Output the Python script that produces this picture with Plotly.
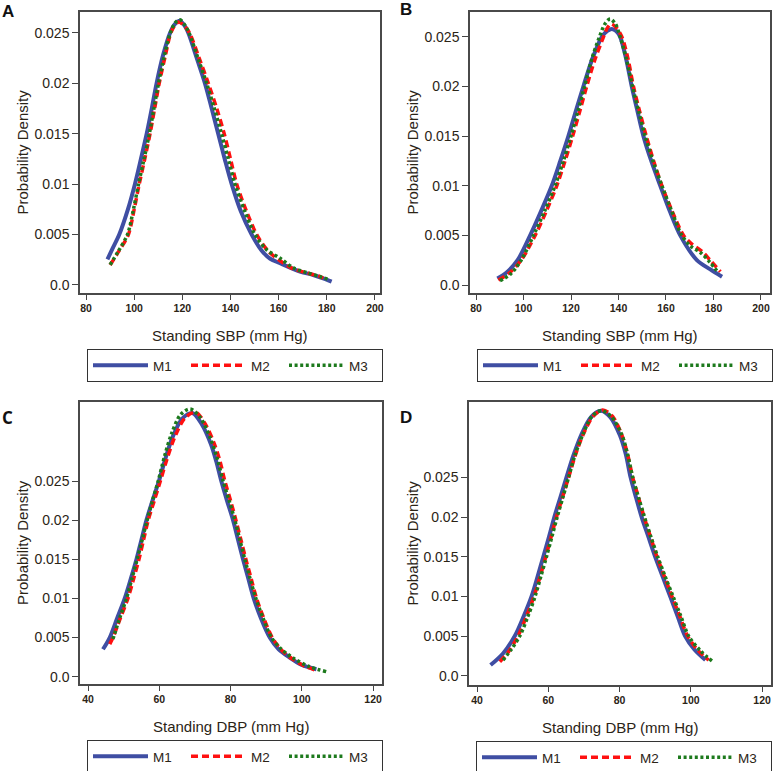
import plotly.graph_objects as go

W, H = 777, 771

# ---------------- data ----------------
# Panel A: Standing SBP
a_m1_x = [88.9, 91.0, 93.8, 97.4, 100.3, 102.8, 105.2, 107.3, 109.3, 112.0, 114.9, 117.0, 119.0, 121.0, 122.5, 126.0, 129.4, 132.2, 134.9, 137.6, 140.5, 144.3, 148.8, 153.0, 156.5, 160.6, 168.9, 174.4, 178.5, 182.0]
a_m1_y = [0.00254, 0.0036, 0.005, 0.0075, 0.010, 0.0125, 0.015, 0.0175, 0.020, 0.0228, 0.025, 0.0259, 0.0262, 0.0257, 0.025, 0.0225, 0.020, 0.0175, 0.015, 0.0125, 0.010, 0.0073, 0.005, 0.0034, 0.0026, 0.00215, 0.00132, 0.00099, 0.00066, 0.00033]
a_m2_x = [90.0, 93.5, 97.6, 100.0, 102.1, 104.4, 106.6, 108.5, 110.4, 113.0, 115.2, 117.0, 118.6, 120.8, 123.0, 127.0, 130.8, 134.3, 137.4, 140.0, 142.6, 146.5, 150.9, 155.5, 160.6, 166.0, 172.3, 177.2, 178.5]
a_m2_y = [0.00198, 0.0033, 0.005, 0.0075, 0.010, 0.0125, 0.015, 0.0175, 0.020, 0.0228, 0.025, 0.0258, 0.0261, 0.0257, 0.025, 0.0225, 0.020, 0.0175, 0.015, 0.0125, 0.010, 0.0074, 0.005, 0.0034, 0.0024, 0.0016, 0.00116, 0.00083, 0.00066]
a_m3_x = [90.0, 93.3, 97.2, 99.7, 101.8, 104.1, 106.3, 108.2, 110.1, 112.6, 115.0, 117.0, 119.0, 121.0, 122.8, 126.5, 130.1, 133.3, 136.3, 139.1, 141.9, 145.8, 150.2, 155.0, 160.6, 166.1, 172.0, 177.5, 181.3]
a_m3_y = [0.0020, 0.0033, 0.005, 0.0075, 0.010, 0.0125, 0.015, 0.0175, 0.020, 0.0228, 0.025, 0.0260, 0.0263, 0.0258, 0.025, 0.0225, 0.020, 0.0175, 0.015, 0.0125, 0.010, 0.0074, 0.005, 0.0035, 0.00265, 0.0017, 0.0012, 0.0008, 0.0005]

# Panel B: Standing SBP
b_m1_x = [89.0, 93.0, 97.5, 102.8, 107.5, 111.9, 115.5, 118.9, 122.0, 125.2, 129.0, 133.0, 135.3, 137.2, 139.0, 140.7, 143.2, 145.6, 148.0, 150.5, 153.8, 157.6, 161.5, 166.0, 173.0, 178.5, 183.6]
b_m1_y = [0.00067, 0.0013, 0.0025, 0.005, 0.0075, 0.010, 0.0125, 0.015, 0.0175, 0.020, 0.0228, 0.025, 0.0256, 0.0258, 0.0256, 0.025, 0.0228, 0.020, 0.0175, 0.015, 0.0125, 0.010, 0.0075, 0.005, 0.00252, 0.0016, 0.00084]
b_m2_x = [89.4, 94.0, 99.0, 104.9, 109.7, 114.0, 117.5, 120.7, 123.7, 126.6, 130.2, 133.7, 135.3, 136.8, 138.8, 141.4, 144.0, 146.3, 148.9, 151.7, 154.8, 158.3, 162.5, 167.4, 171.0, 175.1, 179.0, 182.9]
b_m2_y = [0.0005, 0.0012, 0.0025, 0.005, 0.0075, 0.010, 0.0125, 0.015, 0.0175, 0.020, 0.0228, 0.025, 0.0259, 0.0263, 0.0260, 0.025, 0.0228, 0.020, 0.0175, 0.015, 0.0125, 0.010, 0.0075, 0.005, 0.0041, 0.0034, 0.0024, 0.00135]
b_m3_x = [90.1, 94.5, 99.0, 104.2, 109.0, 113.3, 116.8, 120.0, 122.9, 125.7, 128.8, 132.0, 134.3, 136.5, 138.7, 140.7, 143.3, 145.9, 148.5, 151.2, 154.5, 158.3, 162.3, 166.7, 170.5, 174.4, 178.5, 182.2]
b_m3_y = [0.00044, 0.0011, 0.0025, 0.005, 0.0075, 0.010, 0.0125, 0.015, 0.0175, 0.020, 0.0228, 0.025, 0.0263, 0.0268, 0.0263, 0.025, 0.0228, 0.020, 0.0175, 0.015, 0.0125, 0.010, 0.0075, 0.005, 0.0039, 0.0033, 0.0023, 0.0012]

# Panel C: Standing DBP
c_m1_x = [44.2, 46.1, 48.2, 50.3, 52.0, 53.6, 55.0, 56.4, 58.1, 59.9, 61.8, 63.9, 66.5, 69.3, 72.0, 74.5, 76.0, 77.4, 79.0, 80.7, 82.1, 83.5, 85.0, 86.5, 88.5, 91.0, 93.5, 96.6, 100.0, 104.1]
c_m1_y = [0.0035, 0.005, 0.0075, 0.010, 0.0125, 0.015, 0.0175, 0.020, 0.0225, 0.025, 0.0280, 0.0308, 0.0330, 0.0337, 0.0322, 0.0297, 0.0275, 0.025, 0.0225, 0.020, 0.0175, 0.015, 0.0125, 0.010, 0.0075, 0.005, 0.0035, 0.00244, 0.0015, 0.00094]
c_m2_x = [46.1, 47.0, 49.1, 51.2, 52.8, 54.3, 55.6, 56.9, 58.6, 60.3, 62.3, 64.5, 67.3, 70.2, 72.9, 75.4, 77.0, 78.4, 80.0, 81.5, 82.9, 84.3, 85.8, 87.3, 89.3, 91.7, 94.3, 97.5, 101.0, 104.6]
c_m2_y = [0.00415, 0.005, 0.0075, 0.010, 0.0125, 0.015, 0.0175, 0.020, 0.0225, 0.025, 0.0280, 0.0308, 0.0331, 0.0338, 0.0323, 0.0298, 0.0276, 0.025, 0.0225, 0.020, 0.0175, 0.015, 0.0125, 0.010, 0.0075, 0.005, 0.0034, 0.0022, 0.0013, 0.00073]
c_m3_x = [47.0, 48.9, 50.8, 52.3, 53.8, 55.2, 56.6, 58.1, 59.7, 61.5, 63.4, 66.0, 68.7, 71.5, 74.3, 76.3, 77.9, 79.6, 81.2, 82.6, 84.0, 85.5, 87.1, 89.1, 91.5, 94.3, 97.5, 102.0, 106.9]
c_m3_y = [0.0048, 0.0075, 0.010, 0.0125, 0.015, 0.0175, 0.020, 0.0225, 0.025, 0.0282, 0.0310, 0.0335, 0.0342, 0.0331, 0.0305, 0.0278, 0.025, 0.0225, 0.020, 0.0175, 0.015, 0.0125, 0.010, 0.0075, 0.005, 0.0035, 0.0024, 0.0013, 0.00064]

# Panel D: Standing DBP
d_m1_x = [43.8, 47.3, 50.6, 53.1, 55.3, 57.0, 58.6, 60.2, 61.7, 63.4, 65.1, 67.0, 69.3, 72.0, 74.7, 77.4, 80.1, 81.7, 83.1, 84.6, 86.2, 88.1, 90.0, 92.1, 94.2, 96.3, 98.4, 101.0, 104.1]
d_m1_y = [0.00134, 0.0028, 0.005, 0.0075, 0.010, 0.0125, 0.015, 0.0175, 0.020, 0.0225, 0.025, 0.0277, 0.0304, 0.0326, 0.0334, 0.0326, 0.0303, 0.0280, 0.025, 0.0225, 0.020, 0.0175, 0.015, 0.0125, 0.010, 0.0075, 0.005, 0.0033, 0.00197]
d_m2_x = [46.4, 48.8, 51.5, 53.9, 56.0, 57.7, 59.3, 60.8, 62.3, 64.0, 65.7, 67.6, 69.9, 72.6, 75.3, 78.0, 80.6, 82.2, 83.7, 85.3, 86.9, 88.7, 90.5, 92.6, 94.7, 96.9, 99.1, 102.0, 105.0]
d_m2_y = [0.00176, 0.003, 0.005, 0.0075, 0.010, 0.0125, 0.015, 0.0175, 0.020, 0.0225, 0.025, 0.0278, 0.0305, 0.0327, 0.0335, 0.0327, 0.0304, 0.0280, 0.025, 0.0225, 0.020, 0.0175, 0.015, 0.0125, 0.010, 0.0075, 0.005, 0.0032, 0.00197]
d_m3_x = [47.3, 49.6, 52.0, 54.3, 56.3, 57.9, 59.5, 61.0, 62.5, 64.1, 65.7, 67.5, 69.8, 72.3, 74.8, 77.6, 80.6, 82.2, 83.7, 85.3, 87.0, 88.8, 90.7, 92.8, 95.0, 97.2, 99.4, 102.8, 106.2]
d_m3_y = [0.00197, 0.0033, 0.005, 0.0075, 0.010, 0.0125, 0.015, 0.0175, 0.020, 0.0225, 0.025, 0.0278, 0.0305, 0.0327, 0.0334, 0.0327, 0.0304, 0.0280, 0.025, 0.0225, 0.020, 0.0175, 0.015, 0.0125, 0.010, 0.0075, 0.005, 0.0031, 0.00176]

series_names = ["M1", "M2", "M3"]
y_tickvals = [0.0, 0.005, 0.01, 0.015, 0.02, 0.025]
y_ticktext = ["0.0", "0.005", "0.01", "0.015", "0.02", "0.025"]
sbp_ticks = [80, 100, 120, 140, 160, 180, 200]
dbp_ticks = [40, 60, 80, 100, 120]
panel_labels = ["A", "B", "C", "D"]
x_titles = ["Standing SBP (mm Hg)", "Standing SBP (mm Hg)", "Standing DBP (mm Hg)", "Standing DBP (mm Hg)"]
y_title = "Probability Density"

# ---------------- styles ----------------
COLORS = ["#3f4ea3", "#ff1010", "#1d7a1d"]
WIDTHS = [4, 3.5, 3.5]
DASHES = ["solid", "7px,4px", "3px,2.6px"]
FONT = '"Liberation Sans", Arial, sans-serif'
FRAME = "#4a4a4a"
TXT = "#2b2416"


def px_x(p):
    return p / W


def px_y(p):
    return 1 - p / H


# panel frames in pixels: (left, right, top, bottom)
frames = [(80, 380, 12, 293), (470, 770, 12, 293), (80, 382, 402, 684), (469, 771, 402, 685)]
xranges = [[77.5, 202.1], [77.47, 203.8], [37.75, 122.5], [37.75, 122.5]]
yranges = [[-0.0008, 0.02708], [-0.0008, 0.0275], [-0.00094, 0.0351], [-0.00117, 0.0345]]
xticks = [sbp_ticks, sbp_ticks, dbp_ticks, dbp_ticks]

data = [
    [(a_m1_x, a_m1_y), (a_m2_x, a_m2_y), (a_m3_x, a_m3_y)],
    [(b_m1_x, b_m1_y), (b_m2_x, b_m2_y), (b_m3_x, b_m3_y)],
    [(c_m1_x, c_m1_y), (c_m2_x, c_m2_y), (c_m3_x, c_m3_y)],
    [(d_m1_x, d_m1_y), (d_m2_x, d_m2_y), (d_m3_x, d_m3_y)],
]

fig = go.Figure()
layout = dict(
    width=W, height=H, margin=dict(l=0, r=0, t=0, b=0, autoexpand=False),
    paper_bgcolor="white", plot_bgcolor="white",
    font=dict(family=FONT, color=TXT),
    showlegend=True, annotations=[],
)

legend_keys = ["legend", "legend2", "legend3", "legend4"]
label_pos = [(8, 12), (406, 10), (7, 417), (406, 417)]
label_fonts = [FONT, FONT, '"Open Sans", sans-serif', FONT]

for i in range(4):
    l, r, t, b = frames[i]
    sfx = "" if i == 0 else str(i + 1)
    xa, ya = "x" + sfx, "y" + sfx
    for j in range(3):
        xs, ys = data[i][j]
        fig.add_trace(go.Scatter(
            x=xs, y=ys, mode="lines", name=series_names[j],
            line=dict(color=COLORS[j], width=WIDTHS[j], dash=DASHES[j], shape="spline", smoothing=0.9),
            xaxis=xa, yaxis=ya, legend=legend_keys[i], hoverinfo="x+y+name",
        ))
    layout["xaxis" + sfx] = dict(
        domain=[px_x(l), px_x(r)], range=xranges[i], anchor=ya,
        tickvals=xticks[i], ticks="outside", ticklen=5, tickcolor="#444",
        tickfont=dict(size=10.5, family=FONT, color=TXT, weight="bold"),
        showline=True, linecolor=FRAME, linewidth=1.5, mirror=True,
        showgrid=False, zeroline=False,
    )
    layout["yaxis" + sfx] = dict(
        domain=[px_y(b), px_y(t)], range=yranges[i], anchor=xa,
        tickvals=y_tickvals, ticktext=y_ticktext, ticks="outside", ticklen=6, tickcolor="#444",
        tickfont=dict(size=14, family=FONT, color=TXT),
        showline=True, linecolor=FRAME, linewidth=1.5, mirror=True,
        showgrid=False, zeroline=False,
    )
    layout[legend_keys[i]] = dict(
        x=px_x(l + 7), y=px_y(b + 56), xanchor="left", yanchor="top",
        orientation="h", bordercolor="#333", borderwidth=1, bgcolor="white",
        font=dict(size=13.5, family=FONT, color=TXT), itemwidth=55, entrywidth=28,
        tracegroupgap=0, itemclick=False, itemdoubleclick=False,
    )
    cx = (l + r) / 2
    cy = (t + b) / 2
    layout["annotations"] += [
        dict(text=x_titles[i], x=px_x(cx), y=px_y(b + 42), xref="paper", yref="paper",
             showarrow=False, xanchor="center", yanchor="middle", font=dict(size=15, family=FONT, color=TXT)),
        dict(text=y_title, x=px_x(22 if i % 2 == 0 else 412), y=px_y(cy), xref="paper", yref="paper",
             showarrow=False, textangle=-90, xanchor="center", yanchor="middle", font=dict(size=15, family=FONT, color=TXT)),
        dict(text="<b>" + panel_labels[i] + "</b>", x=px_x(label_pos[i][0]), y=px_y(label_pos[i][1]),
             xref="paper", yref="paper", showarrow=False, xanchor="center", yanchor="middle",
             font=dict(size=17, color="#111", family=label_fonts[i])),
    ]

fig.update_layout(**layout)
fig.write_html(
    "out.html",
    config={"displayModeBar": False},
    post_script="document.body.style.margin='0px';document.body.style.overflow='hidden';",
)
